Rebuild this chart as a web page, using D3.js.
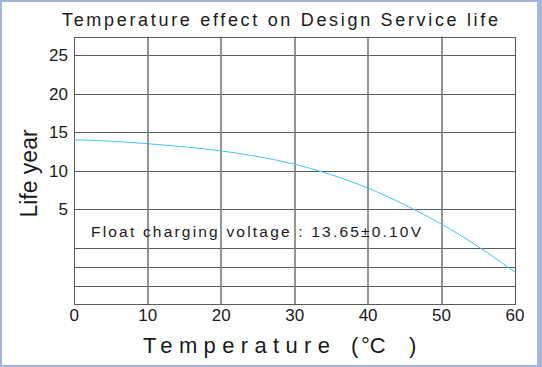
<!DOCTYPE html>
<html>
<head>
<meta charset="utf-8">
<script src="https://cdn.jsdelivr.net/npm/d3@7"></script>
<style>
body { margin:0; background:#fff; }
svg { display:block; }
text { font-family: "Liberation Sans", Arial, sans-serif; fill:#1a1a1a; }
</style>
</head>
<body>
<svg width="542" height="367"></svg>
<script>
var temps = [0, 5, 10, 15, 20, 25, 30, 35, 40, 45, 50, 55, 60]
var lifeYears = [14.0, 13.85, 13.5, 13.1, 12.6, 11.85, 10.9, 9.5, 7.8, 5.6, 3.1, 0.2, -3.2]
var xTicks = [0, 10, 20, 30, 40, 50, 60]
var yTicks = [5, 10, 15, 20, 25]
var yGrid = [25, 20, 15, 10, 5, 0, -2.5, -5]
var title = "Temperature effect on Design Service life"
var note = "Float charging voltage : 13.65\u00b10.10V"

var svg = d3.select("svg")

// blue frame round the picture
svg.append("rect").attr("x",0).attr("y",0).attr("width",542).attr("height",367).attr("fill","#a4b6db")
svg.append("rect").attr("x",2).attr("y",2).attr("width",535).attr("height",363).attr("fill","#fff")

var xScale = d3.scaleLinear().domain([0,60]).range([74.3,515])
var yScale = d3.scaleLinear().domain([-7.34,27.4]).range([304,36.7])

var points = temps.map(function(t,i){ return {x:t, y:lifeYears[i]} })

// grid
svg.append("g")
    .selectAll("line")
    .data(yGrid)
    .enter()
    .append("line")
    .attr("x1",xScale(0)).attr("x2",xScale(60))
    .attr("y1",function(d){return Math.round(yScale(d))+0.5})
    .attr("y2",function(d){return Math.round(yScale(d))+0.5})
    .attr("stroke","#5a5a5a")
    .attr("stroke-width",1)

svg.append("g")
    .selectAll("line")
    .data(xTicks.slice(1,6))
    .enter()
    .append("line")
    .attr("x1",function(d){return Math.round(xScale(d))})
    .attr("x2",function(d){return Math.round(xScale(d))})
    .attr("y1",yScale(27.4)).attr("y2",yScale(-7.34))
    .attr("stroke","#7a7a7a")
    .attr("stroke-width",1.6)

// frame
svg.append("rect")
    .attr("x",Math.round(xScale(0))+0.5).attr("y",Math.round(yScale(27.4))+0.5)
    .attr("width",Math.round(xScale(60))-Math.round(xScale(0)))
    .attr("height",Math.round(yScale(-7.34))-Math.round(yScale(27.4)))
    .attr("fill","none").attr("stroke","#5a5a5a").attr("stroke-width",1)

// curve
var line = d3.line()
    .x(function(p){return xScale(p.x)})
    .y(function(p){return yScale(p.y)})
    .curve(d3.curveBasis)

svg.append("path")
    .datum(points)
    .attr("d",line)
    .attr("fill","none")
    .attr("stroke","#45c4f0")
    .attr("stroke-width",1)

// tick labels
svg.append("g")
    .selectAll("text")
    .data(xTicks)
    .enter()
    .append("text")
    .attr("x",function(d){return xScale(d)})
    .attr("y",321)
    .attr("text-anchor","middle")
    .attr("font-size",17)
    .text(function(d){return d})

svg.append("g")
    .selectAll("text")
    .data(yTicks)
    .enter()
    .append("text")
    .attr("x",68)
    .attr("y",function(d){return yScale(d)+6})
    .attr("text-anchor","end")
    .attr("font-size",17)
    .text(function(d){return d})

// texts
svg.append("text")
    .attr("x",62).attr("y",26)
    .attr("font-size",18)
    .attr("textLength",436).attr("lengthAdjust","spacing")
    .text(title)

svg.append("text")
    .attr("x",91).attr("y",237)
    .attr("font-size",15.5)
    .attr("textLength",330).attr("lengthAdjust","spacing")
    .text(note)

svg.append("text")
    .attr("transform","translate(37,173.5) rotate(-90)")
    .attr("text-anchor","middle")
    .attr("font-size",23)
    .text("Life year")

var xTitle = svg.append("text").attr("y",353).attr("font-size",22)
xTitle.append("tspan").attr("x",143).attr("textLength",187).attr("lengthAdjust","spacing").text("Temperature")
xTitle.append("tspan").attr("x",351).text("(")
xTitle.append("tspan").attr("x",361).text("\u00b0C")
xTitle.append("tspan").attr("x",409).text(")")
</script>
</body>
</html>
